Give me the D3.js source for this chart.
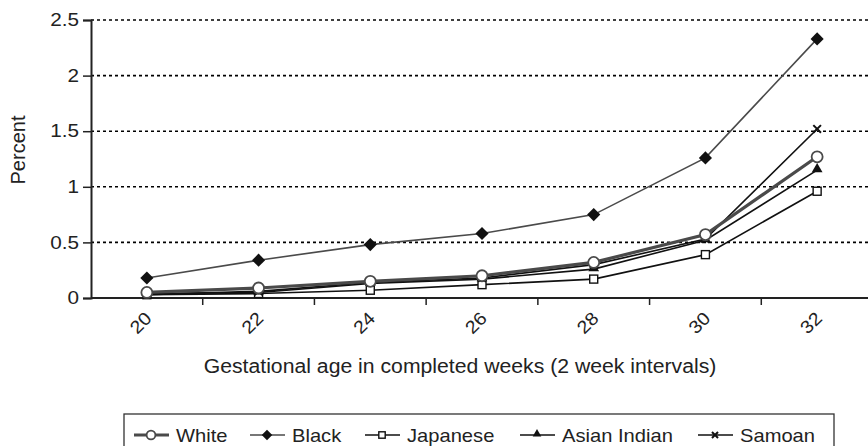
<!DOCTYPE html>
<html>
<head>
<meta charset="utf-8">
<script src="https://cdn.jsdelivr.net/npm/d3@7"></script>
<style>
  body { margin: 0; background: #fff; }
  svg { font-family: "Liberation Sans", Arial, sans-serif; }
</style>
</head>
<body>
<svg id="chart" width="868" height="446"></svg>
<script>
// Gestational age categories (weeks)
var weeks = ["20", "22", "24", "26", "28", "30", "32"];

// Percent per group
var white       = [0.05, 0.09, 0.15, 0.20, 0.32, 0.57, 1.27];
var black       = [0.18, 0.34, 0.48, 0.58, 0.75, 1.26, 2.33];
var japanese    = [0.03, 0.04, 0.07, 0.12, 0.17, 0.39, 0.96];
var asianIndian = [0.04, 0.05, 0.13, 0.17, 0.26, 0.52, 1.15];
var samoan      = [0.03, 0.06, 0.14, 0.18, 0.30, 0.53, 1.52];

var yTicks = [0, 0.5, 1, 1.5, 2, 2.5];
var yTickLabels = ["0", "0.5", "1", "1.5", "2", "2.5"];

var series = [
  {name: "White", values: white, color: "#4a4a4a", width: 3.2, marker: "circle"},
  {name: "Black", values: black, color: "#4a4a4a", width: 1.6, marker: "diamond"},
  {name: "Japanese", values: japanese, color: "#111", width: 1.6, marker: "square"},
  {name: "Asian Indian", values: asianIndian, color: "#111", width: 1.6, marker: "triangle"},
  {name: "Samoan", values: samoan, color: "#111", width: 1.6, marker: "cross"}
];

var svg = d3.select("#chart");
var margin = {top: 20, left: 91};
var plotW = 782, plotH = 278;

var x = d3.scaleBand().domain(weeks).range([margin.left, margin.left + plotW]);
var y = d3.scaleLinear().domain([0, 2.5]).range([margin.top + plotH, margin.top]);

// text in the original is a little wider than Liberation Sans
function stretch(sel, k) {
  sel.each(function() {
    var w = this.getComputedTextLength();
    d3.select(this).attr("textLength", w * k).attr("lengthAdjust", "spacingAndGlyphs");
  });
}

// Dotted gridlines
svg.append("g")
  .selectAll("line")
  .data(yTicks.slice(1))
  .enter().append("line")
  .attr("x1", margin.left).attr("x2", 868)
  .attr("y1", function(d) { return y(d); })
  .attr("y2", function(d) { return y(d); })
  .attr("stroke", "#000")
  .attr("stroke-width", 1.6)
  .attr("stroke-dasharray", "3,3");

// Y axis
var yAxis = svg.append("g")
  .attr("transform", "translate(" + margin.left + ",0)")
  .call(d3.axisLeft(y).tickValues(yTicks)
    .tickFormat(function(d, i) { return yTickLabels[i]; })
    .tickSize(8).tickPadding(4));
yAxis.select(".domain").attr("stroke", "#222").attr("stroke-width", 2);
yAxis.selectAll(".tick line").attr("stroke", "#222").attr("stroke-width", 1.5);
yAxis.selectAll("text").attr("font-size", 18).attr("fill", "#222")
  .attr("font-family", "Liberation Sans, Arial, sans-serif")
  .call(stretch, 1.15);

// X axis: ticks at band boundaries
var xAxisG = svg.append("g");
xAxisG.append("line")
  .attr("x1", margin.left).attr("x2", 868)
  .attr("y1", y(0)).attr("y2", y(0))
  .attr("stroke", "#222").attr("stroke-width", 2);
xAxisG.selectAll(".xtick")
  .data(weeks.slice(1))
  .enter().append("line")
  .attr("x1", function(d) { return x(d); })
  .attr("x2", function(d) { return x(d); })
  .attr("y1", y(0)).attr("y2", y(0) + 7)
  .attr("stroke", "#222").attr("stroke-width", 1.5);
xAxisG.selectAll(".xlabel")
  .data(weeks)
  .enter().append("text")
  .attr("transform", function(d) {
    return "translate(" + (x(d) + x.bandwidth() / 2 - 6) + "," + (y(0) + 25) + ") rotate(-45)";
  })
  .attr("text-anchor", "middle")
  .attr("dominant-baseline", "central")
  .attr("font-size", 18)
  .attr("fill", "#222")
  .text(function(d) { return d; })
  .call(stretch, 1.1);

// Axis titles
svg.append("text")
  .attr("x", 460).attr("y", 373)
  .attr("text-anchor", "middle")
  .attr("font-size", 20).attr("fill", "#222")
  .text("Gestational age in completed weeks (2 week intervals)")
  .call(stretch, 1.06);
svg.append("text")
  .attr("transform", "translate(25,150) rotate(-90)")
  .attr("text-anchor", "middle")
  .attr("font-size", 20).attr("fill", "#222")
  .text("Percent");

function drawMarker(g, type, cx, cy, scale) {
  var s = scale || 1;
  if (type === "circle") {
    g.append("circle").attr("cx", cx).attr("cy", cy).attr("r", 5.5 * s)
      .attr("fill", "#fff").attr("stroke", "#4a4a4a").attr("stroke-width", 1.8);
  } else if (type === "diamond") {
    g.append("path").attr("d", d3.symbol(d3.symbolDiamond2, 110 * s * s)())
      .attr("transform", "translate(" + cx + "," + cy + ")")
      .attr("fill", "#111");
  } else if (type === "square") {
    var r = 4 * s;
    g.append("rect").attr("x", cx - r).attr("y", cy - r)
      .attr("width", 2 * r).attr("height", 2 * r)
      .attr("fill", "#fff").attr("stroke", "#111").attr("stroke-width", 1.4);
  } else if (type === "triangle") {
    g.append("path").attr("d", d3.symbol(d3.symbolTriangle, 50 * s * s)())
      .attr("transform", "translate(" + cx + "," + (cy - 1) + ")")
      .attr("fill", "#111");
  } else if (type === "cross") {
    g.append("path").attr("d", d3.symbol(d3.symbolX, 40 * s * s)())
      .attr("transform", "translate(" + cx + "," + cy + ")")
      .attr("fill", "none").attr("stroke", "#111").attr("stroke-width", 2);
  }
}

// Lines and markers; White goes last so its thick grey line is on top
var order = [1, 2, 3, 4, 0];
var line = d3.line()
  .x(function(d, i) { return x(weeks[i]) + x.bandwidth() / 2; })
  .y(function(d) { return y(d); });

order.forEach(function(k) {
  var s = series[k];
  var g = svg.append("g");
  g.append("path")
    .datum(s.values)
    .attr("d", line)
    .attr("fill", "none")
    .attr("stroke", s.color)
    .attr("stroke-width", s.width);
  s.values.forEach(function(v, i) {
    drawMarker(g, s.marker, x(weeks[i]) + x.bandwidth() / 2, y(v));
  });
});

// Legend
var legend = svg.append("g");
legend.append("rect")
  .attr("x", 124).attr("y", 414).attr("width", 710).attr("height", 40)
  .attr("fill", "none").attr("stroke", "#333").attr("stroke-width", 1.3);
var legendX = [134, 250, 365, 520, 698];
series.forEach(function(s, i) {
  var lx = legendX[i], ly = 435;
  legend.append("line")
    .attr("x1", lx).attr("x2", lx + 35)
    .attr("y1", ly).attr("y2", ly)
    .attr("stroke", s.color).attr("stroke-width", s.width);
  drawMarker(legend, s.marker, lx + 17, ly, 0.8);
  legend.append("text")
    .attr("x", lx + 42).attr("y", 442)
    .attr("font-size", 19).attr("fill", "#222")
    .text(s.name)
    .call(stretch, 1.06);
});
</script>
</body>
</html>
